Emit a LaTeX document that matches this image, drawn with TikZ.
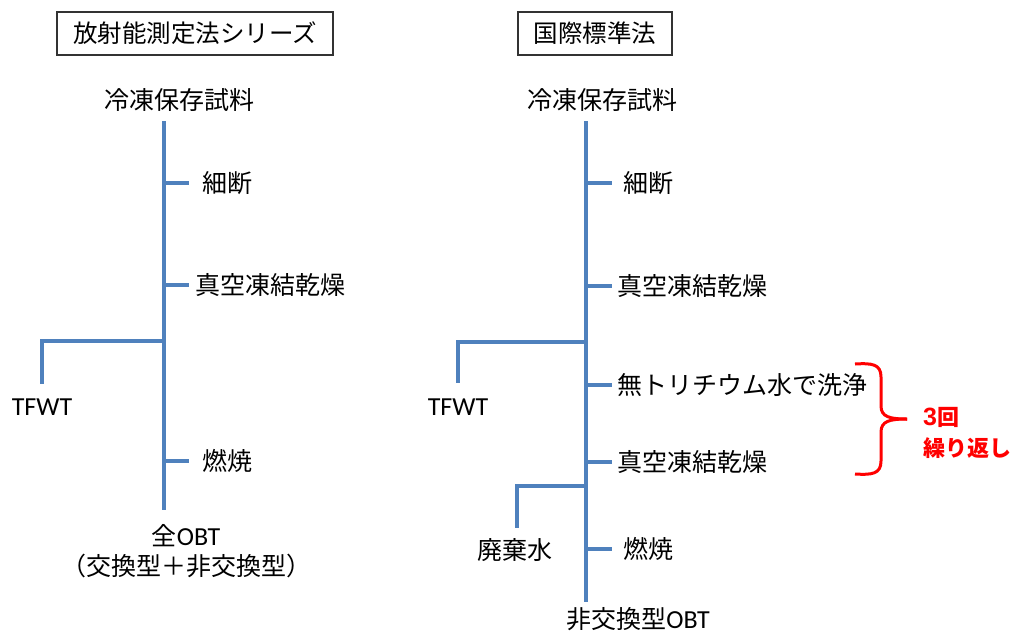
\documentclass[tikz,border=0pt]{standalone}
\usepackage{fontspec}
\setmainfont{Noto Sans CJK JP}
\newfontfamily\lat{Carlito}
\newfontfamily\arial{Liberation Sans}
\definecolor{lineblue}{HTML}{4F81BD}
\definecolor{bracered}{HTML}{FF0000}
\begin{document}
\begin{tikzpicture}[x=1pt,y=-1pt,
  blueline/.style={draw=lineblue,line width=3.6pt},
  lbl/.style={inner sep=0pt,font=\fontsize{25}{30}\selectfont},
  latlbl/.style={inner sep=0pt,font=\lat\fontsize{26}{30}\selectfont},
  ttl/.style={draw=black!80,line width=1.2pt,inner sep=0pt,minimum height=43pt,font=\fontsize{24.5}{29}\selectfont},
  redlbl/.style={inner sep=0pt,anchor=west,text=bracered,font=\fontsize{22}{26}\selectfont\bfseries}]
\useasboundingbox (0,0) rectangle (1014,635);

% ---------- left ----------
\node[ttl,minimum width=276pt] (Ltitle) at (195,33.5) {放射能測定法シリーズ};
\node[lbl] (Lsrc) at (179,100) {冷凍保存試料};
\coordinate (Ltop) at (164,121);
\coordinate (Lbot) at (164,510);
\draw[blueline] (Ltop) -- (Lbot);

\coordinate (Lb1) at (164,183); \coordinate (Lb1e) at (189,183);
\node[lbl,anchor=west] (Lcut) at (202,183) {細断};
\draw[blueline] (Lb1) -- (Lb1e);

\coordinate (Lb2) at (164,285); \coordinate (Lb2e) at (189,285);
\node[lbl,anchor=west] (Lfd) at (195,285) {真空凍結乾燥};
\draw[blueline] (Lb2) -- (Lb2e);

\coordinate (Lb3) at (164,341); \coordinate (Lb3c) at (42,341); \coordinate (Lb3e) at (42,384);
\draw[blueline] (Lb3) -- (Lb3c) -- (Lb3e);
\node[latlbl] (Ltfwt) at (42,407) {TFWT};

\coordinate (Lb4) at (164,461); \coordinate (Lb4e) at (189,461);
\node[lbl,anchor=west] (Lburn) at (202,461) {燃焼};
\draw[blueline] (Lb4) -- (Lb4e);

\node[lbl,align=center] (Lobt) at (186,551) {全{\lat\fontsize{26}{30}\selectfont OBT}\\（交換型＋非交換型）};

% ---------- right ----------
\node[ttl,minimum width=154pt] (Rtitle) at (595,33.5) {国際標準法};
\node[lbl] (Rsrc) at (602,100) {冷凍保存試料};
\coordinate (Rtop) at (586,121);
\coordinate (Rbot) at (586,602);
\draw[blueline] (Rtop) -- (Rbot);

\coordinate (Rb1) at (586,183); \coordinate (Rb1e) at (612,183);
\node[lbl,anchor=west] (Rcut) at (623,183) {細断};
\draw[blueline] (Rb1) -- (Rb1e);

\coordinate (Rb2) at (586,286); \coordinate (Rb2e) at (612,286);
\node[lbl,anchor=west] (Rfd) at (617,286) {真空凍結乾燥};
\draw[blueline] (Rb2) -- (Rb2e);

\coordinate (Rb3) at (586,342); \coordinate (Rb3c) at (458,342); \coordinate (Rb3e) at (458,383);
\draw[blueline] (Rb3) -- (Rb3c) -- (Rb3e);
\node[latlbl] (Rtfwt) at (458,407) {TFWT};

\coordinate (Rb4) at (586,385); \coordinate (Rb4e) at (612,385);
\node[lbl,anchor=west] (Rwash) at (617,385) {無トリチウム水で洗浄};
\draw[blueline] (Rb4) -- (Rb4e);

\coordinate (Rb5) at (586,462); \coordinate (Rb5e) at (612,462);
\node[lbl,anchor=west] (Rfd2) at (617,462) {真空凍結乾燥};
\draw[blueline] (Rb5) -- (Rb5e);

\coordinate (Rb6) at (586,486); \coordinate (Rb6c) at (517,486); \coordinate (Rb6e) at (517,528);
\draw[blueline] (Rb6) -- (Rb6c) -- (Rb6e);
\node[lbl] (Rwaste) at (515,550) {廃棄水};

\coordinate (Rb7) at (586,549); \coordinate (Rb7e) at (612,549);
\node[lbl,anchor=west] (Rburn) at (623,549) {燃焼};
\draw[blueline] (Rb7) -- (Rb7e);

\node[lbl] (Robt) at (638,619) {非交換型{\lat\fontsize{26}{30}\selectfont OBT}};

% ---------- brace ----------
\coordinate (BrTop) at (855,364);
\coordinate (BrTip) at (907,419);
\coordinate (BrBot) at (855,474);
\draw[draw=bracered,line width=3pt]
  (BrTop) .. controls (872,363) and (881,364) .. (881,377) -- (881,406)
  .. controls (881,417) and (890,419) .. (BrTip);
\draw[draw=bracered,line width=3pt]
  (BrTip) .. controls (890,419) and (881,421) .. (881,432) -- (881,461)
  .. controls (881,474) and (872,475) .. (BrBot);
\node[redlbl] (Rep1) at (923,417) {{\arial\bfseries\fontsize{25}{29}\selectfont 3}回};
\node[redlbl] (Rep2) at (923,448) {繰り返し};
\end{tikzpicture}
\end{document}
